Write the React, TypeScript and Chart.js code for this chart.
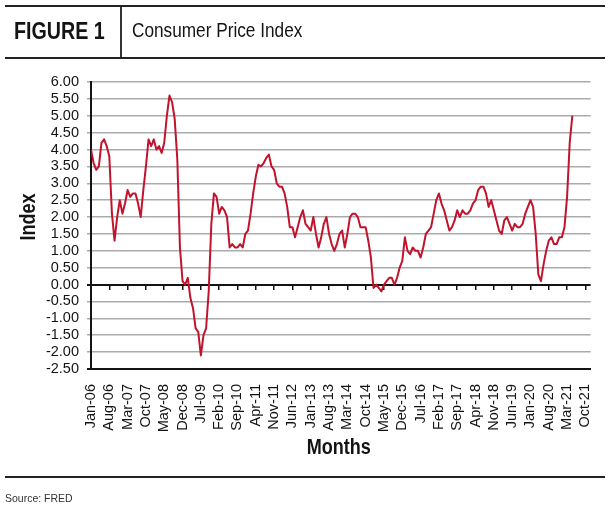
import { useEffect, useRef } from "react";
import { Chart, registerables } from "chart.js";

Chart.register(...registerables);

// Year-over-year change in the Consumer Price Index, monthly, percent
const cpi2006 = [4.0, 3.6, 3.4, 3.5, 4.2, 4.3, 4.1, 3.8, 2.1, 1.3, 2.0, 2.5];
const cpi2007 = [2.1, 2.4, 2.8, 2.6, 2.7, 2.7, 2.4, 2.0, 2.8, 3.5, 4.3, 4.1];
const cpi2008 = [4.3, 4.0, 4.1, 3.9, 4.2, 5.0, 5.6, 5.4, 4.9, 3.7, 1.1, 0.1];
const cpi2009 = [0.0, 0.2, -0.4, -0.7, -1.3, -1.4, -2.1, -1.5, -1.3, -0.2, 1.8, 2.7];
const cpi2010 = [2.6, 2.1, 2.3, 2.2, 2.0, 1.1, 1.2, 1.1, 1.1, 1.2, 1.1, 1.5];
const cpi2011 = [1.6, 2.1, 2.7, 3.2, 3.55, 3.5, 3.6, 3.75, 3.85, 3.5, 3.4, 3.0];
const cpi2012 = [2.9, 2.9, 2.7, 2.3, 1.7, 1.7, 1.4, 1.7, 2.0, 2.2, 1.8, 1.7];
const cpi2013 = [1.6, 2.0, 1.5, 1.1, 1.4, 1.8, 2.0, 1.5, 1.2, 1.0, 1.2, 1.5];
const cpi2014 = [1.6, 1.1, 1.5, 2.0, 2.1, 2.1, 2.0, 1.7, 1.7, 1.7, 1.3, 0.8];
const cpi2015 = [-0.1, 0.0, -0.1, -0.2, 0.0, 0.1, 0.2, 0.2, 0.0, 0.2, 0.5, 0.7];
const cpi2016 = [1.4, 1.0, 0.9, 1.1, 1.0, 1.0, 0.8, 1.1, 1.5, 1.6, 1.7, 2.1];
const cpi2017 = [2.5, 2.7, 2.4, 2.2, 1.9, 1.6, 1.7, 1.9, 2.2, 2.0, 2.2, 2.1];
const cpi2018 = [2.1, 2.2, 2.4, 2.5, 2.8, 2.9, 2.9, 2.7, 2.3, 2.5, 2.2, 1.9];
const cpi2019 = [1.6, 1.5, 1.9, 2.0, 1.8, 1.6, 1.8, 1.7, 1.7, 1.8, 2.1, 2.3];
const cpi2020 = [2.5, 2.3, 1.5, 0.3, 0.1, 0.6, 1.0, 1.3, 1.4, 1.2, 1.2, 1.4];
const cpi2021 = [1.4, 1.7, 2.6, 4.2, 5.0];

const firstMonth = "Jan-06";
const lastAxisMonth = "Dec-21";

const tickLabels = [
  "Jan-06", "Aug-06", "Mar-07", "Oct-07", "May-08", "Dec-08", "Jul-09",
  "Feb-10", "Sep-10", "Apr-11", "Nov-11", "Jun-12", "Jan-13", "Aug-13",
  "Mar-14", "Oct-14", "May-15", "Dec-15", "Jul-16", "Feb-17", "Sep-17",
  "Apr-18", "Nov-18", "Jun-19", "Jan-20", "Aug-20", "Mar-21", "Oct-21",
];

const yMin = -2.5;
const yMax = 6;
const yStep = 0.5;

const MONTH_NAMES = ["Jan", "Feb", "Mar", "Apr", "May", "Jun", "Jul", "Aug", "Sep", "Oct", "Nov", "Dec"];

function absMonth(label: string): number {
  const [m, yy] = label.split("-");
  return (2000 + Number(yy)) * 12 + MONTH_NAMES.indexOf(m);
}

// months elapsed since the first observation
function monthIndex(label: string): number {
  return absMonth(label) - absMonth(firstMonth);
}

const SANS = '"Liberation Sans", Arial, Helvetica, sans-serif';
const INK = "#141414";
const GRID = "#ababab";
const LINE_RED = "#c2132d";
const CONDENSE = 0.82;

// condensed bold axis titles, drawn by squeezing the sans face horizontally
function drawCondensed(
  ctx: CanvasRenderingContext2D,
  text: string,
  cx: number,
  cy: number,
  rotate: boolean,
) {
  ctx.save();
  ctx.translate(cx, cy);
  if (rotate) ctx.rotate(-Math.PI / 2);
  ctx.scale(CONDENSE, 1);
  ctx.font = `bold 22px ${SANS}`;
  ctx.fillStyle = INK;
  ctx.textAlign = "center";
  ctx.textBaseline = "middle";
  ctx.fillText(text, 0, 0);
  ctx.restore();
}

const axisTitles = {
  id: "axisTitles",
  afterDraw(chart: Chart) {
    const { ctx, chartArea } = chart;
    drawCondensed(ctx, "Index", 29, 217, true);
    drawCondensed(ctx, "Months", (chartArea.left + chartArea.right) / 2 - 2, 448, false);
  },
};

export default function App() {
  const canvasRef = useRef<HTMLCanvasElement | null>(null);

  useEffect(() => {
    const canvas = canvasRef.current;
    if (!canvas) return;

    const series = [
      ...cpi2006, ...cpi2007, ...cpi2008, ...cpi2009, ...cpi2010, ...cpi2011,
      ...cpi2012, ...cpi2013, ...cpi2014, ...cpi2015, ...cpi2016, ...cpi2017,
      ...cpi2018, ...cpi2019, ...cpi2020, ...cpi2021,
    ];
    const points = series.map((y, i) => ({ x: i, y }));
    const tickValues = tickLabels.map(monthIndex);
    const labelAt = new Map(tickValues.map((v, i) => [v, tickLabels[i]]));
    const xMax = monthIndex(lastAxisMonth);
    const setMonthTicks = (scale: any) => {
      scale.ticks = tickValues.map((value) => ({ value }));
    };
    const darkRule = (v: number) => v === 0 || v === yMin;

    const chart = new Chart(canvas, {
      type: "line",
      data: {
        datasets: [
          {
            data: points,
            xAxisID: "x",
            yAxisID: "y",
            borderColor: LINE_RED,
            borderWidth: 2,
            pointRadius: 0,
            tension: 0,
            fill: false,
            borderJoinStyle: "round",
          },
        ],
      },
      options: {
        responsive: false,
        animation: false,
        devicePixelRatio: 1,
        layout: { padding: { left: 0, right: 18, top: 82, bottom: 43 } },
        plugins: {
          legend: { display: false },
          tooltip: { enabled: false },
        },
        scales: {
          x: {
            type: "linear",
            position: "bottom",
            min: 0,
            max: xMax,
            afterBuildTicks: setMonthTicks,
            afterFit: (s: any) => {
              s.height = 100;
            },
            grid: { display: false },
            border: { display: true, color: INK, width: 2 },
            ticks: {
              autoSkip: false,
              minRotation: 90,
              maxRotation: 90,
              padding: 7,
              color: INK,
              font: { family: SANS, size: 14.5 },
              callback: (v: any) => labelAt.get(Number(v)) ?? "",
            },
          },
          xZero: {
            type: "linear",
            axis: "x",
            position: { y: 0 },
            min: 0,
            max: xMax,
            afterBuildTicks: setMonthTicks,
            grid: {
              drawOnChartArea: false,
              drawTicks: true,
              tickLength: 5,
              color: INK,
              lineWidth: 1.5,
            },
            border: { display: false },
            ticks: { display: false },
          },
          y: {
            type: "linear",
            min: yMin,
            max: yMax,
            afterFit: (s: any) => {
              s.width = 91;
            },
            ticks: {
              autoSkip: false,
              stepSize: yStep,
              padding: 8,
              color: INK,
              font: { family: SANS, size: 14.5 },
              callback: (v: any) => Number(v).toFixed(2),
            },
            grid: {
              color: (c: any) => (darkRule(c.tick.value) ? INK : GRID),
              lineWidth: (c: any) => (darkRule(c.tick.value) ? 2 : 1.5),
              tickLength: 4,
            },
            border: { display: true, color: INK, width: 2 },
          },
        },
      } as any,
      plugins: [axisTitles],
    });

    return () => chart.destroy();
  }, []);

  const rule = (top: number) => (
    <div
      style={{
        position: "absolute",
        left: 5,
        right: 5,
        top,
        height: 2,
        background: "#222",
      }}
    />
  );

  const condensed = {
    position: "absolute" as const,
    transform: `scaleX(${CONDENSE})`,
    transformOrigin: "left center",
    color: INK,
    lineHeight: "30px",
    whiteSpace: "nowrap" as const,
  };

  return (
    <div
      style={{
        position: "fixed",
        left: 0,
        top: 0,
        width: 610,
        height: 512,
        background: "#fff",
        overflow: "hidden",
      }}
    >
      <canvas
        ref={canvasRef}
        width={610}
        height={512}
        style={{ position: "absolute", left: 0, top: 0, width: 610, height: 512 }}
      />
      {rule(5)}
      {rule(57)}
      <div
        style={{
          position: "absolute",
          left: 120,
          top: 7,
          width: 1.5,
          height: 50,
          background: "#333",
        }}
      />
      <div style={{ ...condensed, left: 14, top: 17, font: `bold 24px ${SANS}` }}>FIGURE 1</div>
      <div style={{ ...condensed, left: 132, top: 18, font: `21px ${SANS}` }}>Consumer Price Index</div>
      {rule(476)}
      <div
        style={{
          position: "absolute",
          left: 5,
          top: 490,
          font: `10.5px ${SANS}`,
          color: "#333",
          lineHeight: "16px",
          whiteSpace: "nowrap",
        }}
      >
        Source: FRED
      </div>
    </div>
  );
}
